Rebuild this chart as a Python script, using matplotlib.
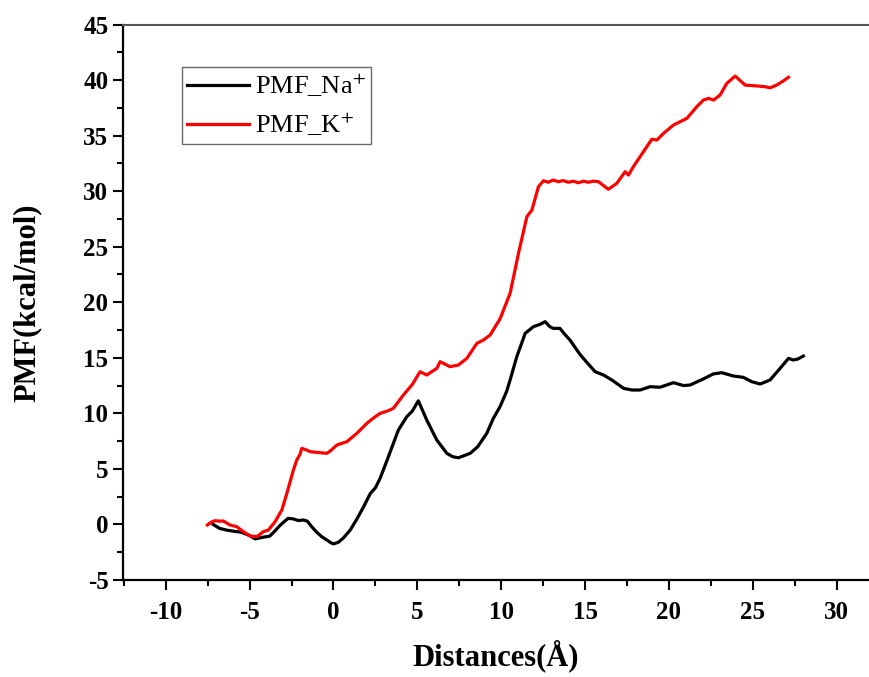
import matplotlib
matplotlib.use("Agg")
import matplotlib.pyplot as plt
from matplotlib.ticker import MultipleLocator

# ---- data ----
na_x = [-7.17, -6.8, -6.4, -6.0, -5.5, -5.0, -4.67, -4.2, -3.8, -3.5, -3.2, -2.9, -2.7, -2.4, -2.1, -1.8, -1.56,
        -1.3, -1.0, -0.7, -0.4, -0.15, 0.0, 0.3, 0.6, 1.0, 1.4, 1.8, 2.2, 2.5, 2.78, 3.2, 3.87, 4.37, 4.7, 5.06,
        5.3, 5.56, 6.16, 6.76, 7.1, 7.45, 7.8, 8.15, 8.6, 9.14, 9.53, 9.93, 10.33, 10.53, 10.93, 11.43, 11.92,
        12.3, 12.62, 12.9, 13.1, 13.5, 13.8, 14.1, 14.7, 15.1, 15.6, 16.1, 16.6, 17.3, 17.8, 18.28, 18.88,
        19.47, 20.27, 20.87, 21.26, 22.06, 22.65, 23.15, 23.85, 24.44, 24.94, 25.44, 26.03, 26.63, 27.13,
        27.42, 27.7, 28.02]
na_y = [0.0, -0.35, -0.5, -0.6, -0.7, -1.0, -1.3, -1.15, -1.05, -0.6, -0.1, 0.3, 0.55, 0.5, 0.35, 0.4, 0.3,
        -0.2, -0.7, -1.1, -1.4, -1.65, -1.75, -1.6, -1.2, -0.5, 0.5, 1.6, 2.8, 3.3, 4.15, 5.8, 8.5, 9.7, 10.2, 11.13,
        10.3, 9.4, 7.6, 6.4, 6.1, 6.0, 6.2, 6.4, 7.0, 8.2, 9.55, 10.6, 12.0, 13.0, 15.1, 17.2, 17.8,
        18.0, 18.25, 17.8, 17.65, 17.65, 17.1, 16.6, 15.3, 14.6, 13.75, 13.45, 13.0, 12.25, 12.1, 12.1, 12.4,
        12.35, 12.76, 12.5, 12.55, 13.1, 13.55, 13.66, 13.36, 13.24, 12.85, 12.64, 13.0, 14.05, 14.95,
        14.8, 14.9, 15.16]

k_x = [-7.52, -7.3, -7.06, -6.8, -6.57, -6.17, -5.77, -5.37, -4.97, -4.57, -4.18, -3.88, -3.48, -3.08, -2.78,
       -2.39, -2.19, -2.0, -1.89, -1.6, -1.4, -0.8, -0.4, -0.2, 0.2, 0.8, 1.39, 1.99, 2.4, 2.78, 3.2, 3.57, 4.17,
       4.7, 5.16, 5.56, 6.16, 6.36, 6.95, 7.45, 7.95, 8.55, 8.94, 9.34, 9.93, 10.53, 11.03, 11.53, 11.83, 12.22,
       12.52, 12.8, 13.1, 13.4, 13.7, 14.0, 14.3, 14.6, 14.9, 15.2, 15.5, 15.8, 16.1, 16.39, 16.89, 17.39,
       17.59, 17.88, 18.48, 18.98, 19.28, 19.68, 20.27, 21.07, 21.66, 22.06, 22.36, 22.66, 23.05, 23.45,
       23.95, 24.54, 25.24, 25.74, 26.03, 26.43, 26.8, 27.13]
k_y = [-0.05, 0.2, 0.34, 0.3, 0.31, -0.05, -0.2, -0.65, -1.04, -1.1, -0.65, -0.5, 0.25, 1.3, 2.8,
       4.9, 5.8, 6.3, 6.85, 6.7, 6.55, 6.46, 6.4, 6.6, 7.15, 7.45, 8.2, 9.1, 9.6, 10.0, 10.2, 10.45, 11.65,
       12.6, 13.75, 13.45, 14.05, 14.65, 14.2, 14.35, 14.95, 16.3, 16.6, 17.05, 18.5, 20.8, 24.4, 27.7, 28.3, 30.4,
       30.94, 30.8, 31.0, 30.85, 30.95, 30.8, 30.9, 30.75, 30.9, 30.8, 30.9, 30.85, 30.5, 30.17, 30.7, 31.75,
       31.45, 32.2, 33.55, 34.67, 34.6, 35.2, 35.95, 36.55, 37.6, 38.2, 38.35, 38.2, 38.65, 39.7,
       40.36, 39.55, 39.47, 39.4, 39.3, 39.55, 39.9, 40.25]

x_ticks = [-10, -5, 0, 5, 10, 15, 20, 25, 30]
y_ticks = [-5, 0, 5, 10, 15, 20, 25, 30, 35, 40, 45]

plt.rcParams['font.family'] = ['Liberation Serif', 'DejaVu Serif']
plt.rcParams['mathtext.fontset'] = 'stix'
plt.rcParams['axes.unicode_minus'] = False

fig = plt.figure(figsize=(8.69, 6.77), dpi=100)
ax = fig.add_axes([123 / 869, 1 - 580 / 677, 1 - 123 / 869, (580 - 24.5) / 677])

ax.plot(na_x, na_y, color='black', lw=2.3, label='PMF_Na$^{+}$')
ax.plot(k_x, k_y, color='#ff0000', lw=2.3, label='PMF_K$^{+}$')

ax.set_xlim(-12.55, 31.93)
ax.set_ylim(-5, 45)
ax.set_xticks(x_ticks)
ax.set_yticks(y_ticks)
ax.xaxis.set_minor_locator(MultipleLocator(2.5))
ax.yaxis.set_minor_locator(MultipleLocator(2.5))

ax.spines['right'].set_visible(False)
ax.spines['top'].set_color('#555555')
ax.spines['top'].set_linewidth(1.5)
ax.spines['left'].set_linewidth(1.6)
ax.spines['bottom'].set_linewidth(1.6)

ax.tick_params(which='major', direction='out', length=7, width=1.5, labelsize=18, top=False, right=False)
ax.tick_params(axis='x', which='major', pad=8)
ax.tick_params(which='minor', direction='out', length=4, width=1.5, top=False, right=False)
for lab in ax.get_xticklabels() + ax.get_yticklabels():
    lab.set_fontweight('bold')

ax.set_xlabel('Distances(Å)', fontsize=22, fontweight='bold', labelpad=11)
ax.set_ylabel('PMF(kcal/mol)', fontsize=22, fontweight='bold', labelpad=30)

leg = ax.legend(loc='upper left', bbox_to_anchor=((182 - 123) / 746, (580 - 67) / 555.5),
                fontsize=19, frameon=True, fancybox=False, handlelength=2.35, handletextpad=0.2,
                borderpad=0.2, labelspacing=0.45, borderaxespad=0)
leg.get_frame().set_edgecolor('#444444')
leg.get_frame().set_linewidth(1.0)

fig.savefig('out.png', dpi=100)
